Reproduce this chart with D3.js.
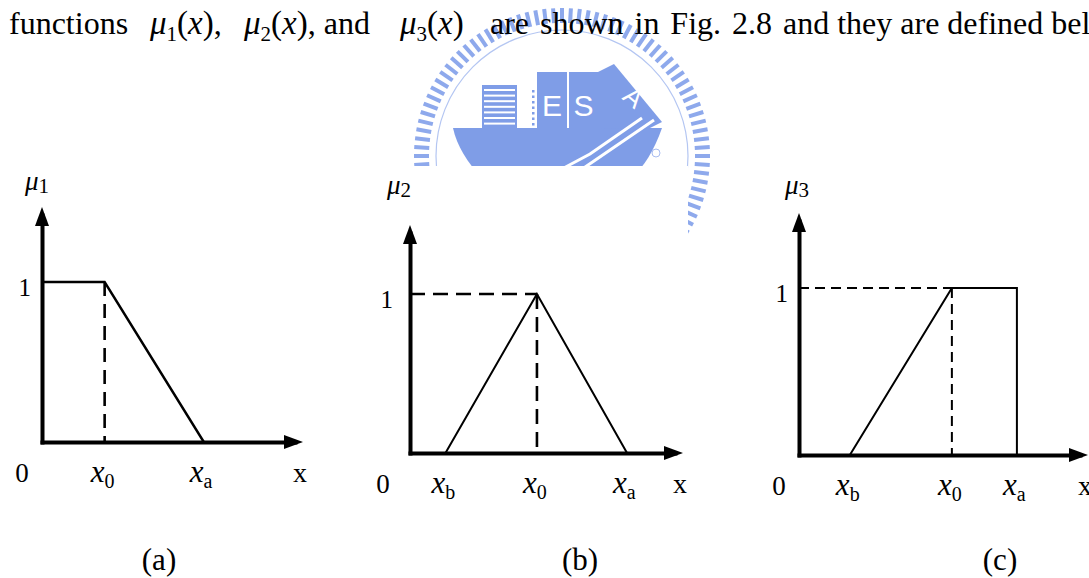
<!DOCTYPE html>
<html>
<head>
<meta charset="utf-8">
<script src="https://cdn.jsdelivr.net/npm/d3@7"></script>
<style>
  html, body { margin: 0; padding: 0; background: #fff; }
  svg { display: block; }
  text { font-family: "Liberation Serif", "Times New Roman", serif; fill: #000; }
</style>
</head>
<body>
<svg id="fig" width="1089" height="578"></svg>
<script>
// Membership-function breakpoints, in axis units (x: 0..10, y: 0..1)
const mu1Points = [[0, 1], [2.4, 1], [6.2, 0]];
const mu2Points = [[1.3, 0], [4.65, 1], [7.95, 0]];
const mu3Points = [[1.76, 0], [5.29, 1], [7.54, 1], [7.54, 0]];

// Dashed guide segments
const mu1Guides = [[[2.4, 1], [2.4, 0]]];
const mu2Guides = [[[0, 1], [4.65, 1]], [[4.65, 1], [4.65, 0]]];
const mu3Guides = [[[0, 1], [5.29, 1]], [[5.29, 1], [5.29, 0]]];

// x tick positions with the subscript of each x label
const mu1Ticks = [[2.4, "0"], [6.2, "a"]];
const mu2Ticks = [[1.3, "b"], [4.65, "0"], [7.95, "a"]];
const mu3Ticks = [[1.76, "b"], [5.29, "0"], [7.54, "a"]];

const yTickValues = [1];
const muSubscripts = ["1", "2", "3"];
const captions = ["(a)", "(b)", "(c)"];

const svg = d3.select("#fig");

// ---------- watermark seal (drawn first, sits behind everything) ----------
const blue = "#7f9de7";
const seal = svg.append("g").attr("transform", "translate(562,156)");
const nTicks = 104;
seal.selectAll("line.rt").data(d3.range(nTicks)).join("line")
  .attr("class", "rt")
  .attr("x1", i => 133 * Math.cos(i / nTicks * 2 * Math.PI))
  .attr("y1", i => 133 * Math.sin(i / nTicks * 2 * Math.PI))
  .attr("x2", i => 148 * Math.cos(i / nTicks * 2 * Math.PI))
  .attr("y2", i => 148 * Math.sin(i / nTicks * 2 * Math.PI))
  .attr("stroke", "#8ea9ec").attr("stroke-width", 4);
seal.append("circle").attr("r", 126).attr("fill", "none")
  .attr("stroke", "#b4c6f2").attr("stroke-width", 1.2);
// hull
seal.append("path")
  .attr("d", "M-109,-28 L100,-28 C92,-5 82,10 70,22 L-80,22 C-95,6 -105,-10 -109,-28 Z")
  .attr("fill", blue);
// striped block
seal.append("rect").attr("x", -80).attr("y", -71).attr("width", 35).attr("height", 44).attr("fill", blue);
seal.selectAll("rect.stripe").data(d3.range(7)).join("rect")
  .attr("class", "stripe")
  .attr("x", -78).attr("y", i => -67 + i * 5.6).attr("width", 31).attr("height", 2)
  .attr("fill", "#fff");
// dotted column
seal.selectAll("rect.dot").data(d3.range(7)).join("rect")
  .attr("class", "dot")
  .attr("x", -30).attr("y", i => -66 + i * 5.5).attr("width", 2.5).attr("height", 2.5)
  .attr("fill", blue);
// E and S blocks
seal.append("rect").attr("x", -25).attr("y", -84).attr("width", 30).attr("height", 57).attr("fill", blue);
seal.append("rect").attr("x", 7).attr("y", -84).attr("width", 29).attr("height", 57).attr("fill", blue);
seal.append("text").attr("x", -10).attr("y", -40).attr("text-anchor", "middle")
  .style("font-family", "Liberation Sans, Arial, sans-serif").style("font-size", "30px")
  .style("fill", "#fff").text("E");
seal.append("text").attr("x", 21.5).attr("y", -40).attr("text-anchor", "middle")
  .style("font-family", "Liberation Sans, Arial, sans-serif").style("font-size", "30px")
  .style("fill", "#fff").text("S");
// leaning A block
seal.append("path").attr("d", "M36,-84 L52,-92 L100,-34 L84,-26 L36,-28 Z").attr("fill", blue);
seal.append("text").attr("transform", "translate(66,-52) rotate(40)").attr("text-anchor", "middle")
  .style("font-family", "Liberation Sans, Arial, sans-serif").style("font-size", "26px")
  .style("fill", "#fff").text("A");
// white chevron through the hull
seal.append("path").attr("d", "M92,-36 L10,20 M80,-38 L28,-2 L-2,14")
  .attr("fill", "none").attr("stroke", "#fff").attr("stroke-width", 3);
seal.append("circle").attr("cx", 94).attr("cy", -3).attr("r", 4)
  .attr("fill", "none").attr("stroke", "#a9bdf0").attr("stroke-width", 1);

// white patch where the middle figure was pasted over the seal
svg.append("rect").attr("x", 395).attr("y", 166).attr("width", 293).attr("height", 160).attr("fill", "#fff");

// ---------- sentence line ----------
const lineY = 34;
const para = svg.append("g").style("font-size", "32px");
function mathRun(x, sub, tail) {
  const t = para.append("text").attr("x", x).attr("y", lineY).style("font-size", "33px");
  t.append("tspan").style("font-style", "italic").text("\u03bc");
  t.append("tspan").attr("dy", 7).style("font-size", "21px").text(sub);
  t.append("tspan").attr("dy", -7).text("(");
  t.append("tspan").style("font-style", "italic").text("x");
  t.append("tspan").text(")");
  if (tail) t.append("tspan").style("font-size", "32px").text(tail);
}
function wordRun(x, str, endX) {
  const t = para.append("text").attr("x", x).attr("y", lineY).text(str);
  if (endX) {
    const n = str.split(" ").length - 1;
    const w = t.node().getComputedTextLength();
    t.attr("word-spacing", (endX - x - w) / n);
  }
}
wordRun(9, "functions");
mathRun(150, "1", ",");
mathRun(244, "2", ", and");
mathRun(400, "3", "");
wordRun(490, "are shown in Fig. 2.8", 772);
wordRun(783, "and they are defined bel");

// ---------- the three membership plots ----------
const frames = [
  { left: 42,  right: 303,  bottom: 442, one: 282, top: 207, dash: "14,8", muX: 25,  muY: 190 },
  { left: 410, right: 683,  bottom: 453, one: 294, top: 225, dash: "15,8", muX: 387, muY: 194 },
  { left: 799, right: 1088, bottom: 455, one: 288, top: 213, dash: "10,6", muX: 785, muY: 194 }
];
const pointSets = [mu1Points, mu2Points, mu3Points];
const guideSets = [mu1Guides, mu2Guides, mu3Guides];
const tickSets = [mu1Ticks, mu2Ticks, mu3Ticks];
const captionX = [159, 580, 1000];

frames.forEach((f, k) => {
  const g = svg.append("g");
  const x = d3.scaleLinear().domain([0, 10]).range([f.left, f.right]);
  const y = d3.scaleLinear().domain([0, 1]).range([f.bottom, f.one]);
  const yFull = y.copy().domain([0, y.invert(f.top)]).range([f.bottom, f.top]);

  // dashed guides
  const line = d3.line().x(d => x(d[0])).y(d => y(d[1]));
  g.selectAll("path.guide").data(guideSets[k]).join("path")
    .attr("class", "guide")
    .attr("d", line).attr("fill", "none").attr("stroke", "#000")
    .attr("stroke-width", k === 2 ? 2 : 2.6).attr("stroke-dasharray", f.dash);

  // membership function
  g.append("path").attr("d", line(pointSets[k])).attr("fill", "none")
    .attr("stroke", "#000").attr("stroke-width", k === 0 ? 2.4 : 2).attr("stroke-linejoin", "miter");

  // axes
  const xAxis = g.append("g").attr("transform", `translate(0,${f.bottom})`)
    .call(d3.axisBottom(x.copy().range([f.left - 2, f.right - 6])).tickValues([]).tickSizeOuter(0));
  xAxis.select(".domain").attr("stroke", "#000").attr("stroke-width", 4);
  const yAxis = g.append("g").attr("transform", `translate(${f.left},0)`)
    .call(d3.axisLeft(yFull.copy().range([f.bottom + 2, f.top + 6])).tickValues(yTickValues)
      .tickSize(0).tickPadding(12).tickFormat(d3.format("d")));
  yAxis.select(".domain").attr("stroke", "#000").attr("stroke-width", 4);
  yAxis.selectAll(".tick text")
    .style("font-family", "Liberation Serif, serif").style("font-size", "25px")
    .attr("dy", "0.34em").attr("x", f.left === 410 ? -17 : -11);

  // arrowheads
  g.append("path").attr("d", d3.line()([[f.left, f.top], [f.left - 7, f.top + 19], [f.left + 7, f.top + 19]]) + "Z")
    .attr("fill", "#000");
  g.append("path").attr("d", d3.line()([[f.right, f.bottom], [f.right - 19, f.bottom - 7], [f.right - 19, f.bottom + 7]]) + "Z")
    .attr("fill", "#000");

  // axis names
  const mu = g.append("text").attr("x", f.muX).attr("y", f.muY).style("font-size", "27px");
  mu.append("tspan").style("font-style", "italic").text("\u03bc");
  mu.append("tspan").attr("dy", 3).style("font-size", "21px").text(muSubscripts[k]);

  const labY = f.bottom + 40;
  g.append("text").attr("x", f.left - (k === 1 ? 27 : 20)).attr("y", labY).attr("text-anchor", "middle")
    .style("font-size", "27px").text("0");
  g.append("text").attr("x", f.right - 3).attr("y", labY).attr("text-anchor", "middle")
    .style("font-size", "28px").text("x");

  tickSets[k].forEach(([v, s]) => {
    const t = g.append("text").attr("x", x(v) - 14).attr("y", labY);
    t.append("tspan").style("font-style", "italic").style("font-size", "31px").text("x");
    t.append("tspan").attr("dy", 6).style("font-size", "20px").text(s);
  });

  // caption
  svg.append("text").attr("x", captionX[k]).attr("y", 570).attr("text-anchor", "middle")
    .style("font-size", "31px").text(captions[k]);
});
</script>
</body>
</html>
